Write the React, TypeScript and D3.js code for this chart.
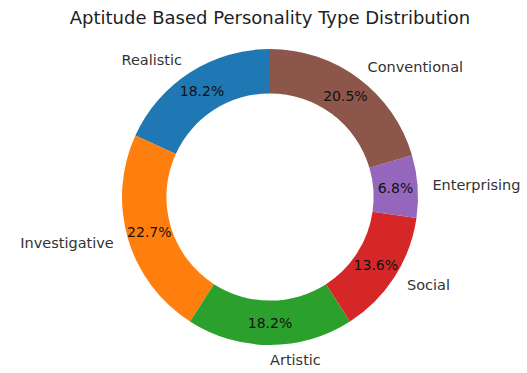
import React from "react";
import * as d3 from "d3";

const categories = ["Realistic", "Investigative", "Artistic", "Social", "Enterprising", "Conventional"];
const counts = [8, 10, 8, 6, 3, 9];
const colors = ["#1f77b4", "#ff7f0e", "#2ca02c", "#d62728", "#9467bd", "#8c564b"];
const title = "Aptitude Based Personality Type Distribution";

const W = 527;
const H = 373;
const cx = 270;
const cy = 197;
const R = 148;

export default function App() {
  const total = d3.sum(counts);
  const pie = d3
    .pie<number>()
    .sort(null)
    .value((d) => d)
    .startAngle(0)
    .endAngle(-2 * Math.PI);
  const arcs = pie(counts);
  const arc = d3.arc<d3.PieArcDatum<number>>().innerRadius(R * 0.7).outerRadius(R);
  const font = "'DejaVu Sans', sans-serif";
  return (
    <svg width={W} height={H} style={{ position: "absolute", left: 0, top: 0, background: "#fff" }}>
      <text x={cx} y={24} textAnchor="middle" fontFamily={font} fontSize={18} fill="#222">
        {title}
      </text>
      <g transform={`translate(${cx},${cy})`}>
        {arcs.map((a, i) => (
          <path key={i} d={arc(a) || ""} fill={colors[i]} />
        ))}
        {arcs.map((a, i) => {
          const m = (a.startAngle + a.endAngle) / 2;
          const lx = 1.1 * R * Math.sin(m);
          const ly = -1.1 * R * Math.cos(m);
          const px = 0.85 * R * Math.sin(m);
          const py = -0.85 * R * Math.cos(m);
          return (
            <g key={"t" + i}>
              <text
                x={lx}
                y={ly}
                dy="0.35em"
                textAnchor={lx > -1e-6 ? "start" : "end"}
                fontFamily={font}
                fontSize={14.5}
                fill="#333"
              >
                {categories[i]}
              </text>
              <text
                x={px}
                y={py}
                dy="0.35em"
                textAnchor="middle"
                fontFamily={font}
                fontSize={14}
                fill="#111"
              >
                {d3.format(".1f")((counts[i] / total) * 100) + "%"}
              </text>
            </g>
          );
        })}
      </g>
    </svg>
  );
}
